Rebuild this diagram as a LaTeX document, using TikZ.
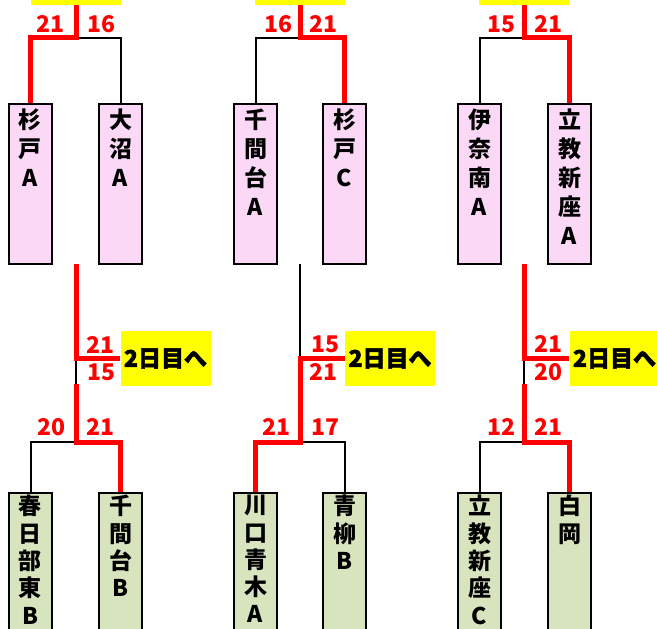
\documentclass[tikz,border=0pt]{standalone}
\usepackage{fontspec}
\setmainfont{Noto Sans CJK JP}
\newfontfamily\heavyfont[FakeBold=2]{Noto Sans CJK JP}
\definecolor{pinkfill}{RGB}{251,216,246}
\definecolor{greenfill}{RGB}{215,228,189}
\definecolor{winred}{RGB}{255,0,0}
\definecolor{goalyellow}{RGB}{255,255,0}

\begin{document}
\begin{tikzpicture}[x=1pt,y=-1pt,
  pinkbox/.style={draw,line width=2pt,fill=pinkfill,minimum width=43pt,minimum height=160pt,inner sep=0pt},
  greenbox/.style={pinkbox,fill=greenfill},
  teamname/.style={anchor=north,align=center,inner sep=0pt,yshift=-6pt,font=\fontsize{23}{29}\selectfont\bfseries},
  lowname/.style={teamname,yshift=3pt,font=\fontsize{23}{27.3}\selectfont\bfseries},
  goalbox/.style={fill=goalyellow,minimum width=90pt,minimum height=55pt,inner sep=0pt,font=\heavyfont\bfseries\fontsize{23}{23}\selectfont},
  score/.style={text=winred,inner sep=0pt,font=\fontsize{23}{23}\selectfont\bfseries},
  lose/.style={draw,line width=2pt},
  win/.style={draw,winred,line width=5pt}]
\useasboundingbox (0,0) rectangle (657,629);
\clip (0,0) rectangle (657,629);

% day-1 boxes, top row
\node[pinkbox] (a1) at (30.5,184) {};
\node[pinkbox] (b1) at (120.5,184) {};
\node[pinkbox] (a2) at (255.5,184) {};
\node[pinkbox] (b2) at (344.5,184) {};
\node[pinkbox] (a3) at (479.5,184) {};
\node[pinkbox] (b3) at (569.5,184) {};
\node[teamname] (a1t) at (a1.north) {杉\\戸\\A};
\node[teamname] (b1t) at (b1.north) {大\\沼\\A};
\node[teamname] (a2t) at (a2.north) {千\\間\\台\\A};
\node[teamname] (b2t) at (b2.north) {杉\\戸\\C};
\node[teamname] (a3t) at (a3.north) {伊\\奈\\南\\A};
\node[teamname] (b3t) at (b3.north) {立\\教\\新\\座\\A};

% bottom row
\node[greenbox] (c1) at (30.5,573) {};
\node[greenbox] (d1) at (120.5,573) {};
\node[greenbox] (c2) at (255.5,573) {};
\node[greenbox] (d2) at (344.5,573) {};
\node[greenbox] (c3) at (479.5,573) {};
\node[greenbox] (d3) at (569.5,573) {};
\node[lowname] (c1t) at (c1.north) {春\\日\\部\\東\\B};
\node[lowname] (d1t) at (d1.north) {千\\間\\台\\B};
\node[lowname] (c2t) at (c2.north) {川\\口\\青\\木\\A};
\node[lowname] (d2t) at (d2.north) {青\\柳\\B};
\node[lowname] (c3t) at (c3.north) {立\\教\\新\\座\\C};
\node[lowname] (d3t) at (d3.north) {白\\岡};

% yellow boxes
\node[goalbox] (f1) at (76,-22.5) {};
\node[goalbox] (f2) at (300,-22.5) {};
\node[goalbox] (f3) at (524,-22.5) {};
\node[goalbox] (g1) at (165.5,358.5) {2日目へ};
\node[goalbox] (g2) at (390,358.5) {2日目へ};
\node[goalbox] (g3) at (614.5,358.5) {2日目へ};

% junctions
\coordinate (t1) at (76,37.5);
\coordinate (t2) at (300,37.5);
\coordinate (t3) at (524,37.5);
\coordinate (u1) at (76,264);
\coordinate (u2) at (300,264);
\coordinate (u3) at (524,264);
\coordinate (m1) at (76,358.5);
\coordinate (m2) at (300,358.5);
\coordinate (m3) at (524,358.5);
\coordinate (l1) at (76,384);
\coordinate (l3) at (524,384);
\coordinate (j1) at (76,442);
\coordinate (j2) at (300,442);
\coordinate (j3) at (524,442);

\path[lose] (t1) -| (b1.north);
\path[lose] (t2) -| (a2.north);
\path[lose] (t3) -| (a3.north);
\path[lose] (m1) -- (l1);
\path[lose] (u2) -- (m2);
\path[lose] (m3) -- (l3);
\path[lose] (j1) -| (c1.north);
\path[lose] (j2) -| (d2.north);
\path[lose] (j3) -| (c3.north);

\path[win] (f1.south) -- (t1) -| (a1.north);
\path[win] (f2.south) -- (t2) -| (b2.north);
\path[win] (f3.south) -- (t3) -| (b3.north);
\path[win] (u1) -- (m1) -- (g1.west);
\path[win] (g2.west) -- (m2) -- (j2) -| (c2.north);
\path[win] (u3) -- (m3) -- (g3.west);
\path[win] (l1) -- (j1) -| (d1.north);
\path[win] (l3) -- (j3) -| (d3.north);

% scores
\node[score,anchor=base east] (s1) at (65,32) {21};
\node[score,anchor=base west] (s2) at (87,32) {16};
\node[score,anchor=base east] (s3) at (293,32) {16};
\node[score,anchor=base west] (s4) at (309,32) {21};
\node[score,anchor=base east] (s5) at (516,32) {15};
\node[score,anchor=base west] (s6) at (534,32) {21};
\node[score,anchor=base west] (s7) at (86,353) {21};
\node[score,anchor=base west] (s8) at (87,380) {15};
\node[score,anchor=base west] (s9) at (311,352) {15};
\node[score,anchor=base west] (s10) at (309,380) {21};
\node[score,anchor=base west] (s11) at (534,352) {21};
\node[score,anchor=base west] (s12) at (534,380) {20};
\node[score,anchor=base east] (s13) at (66,435) {20};
\node[score,anchor=base west] (s14) at (86,435) {21};
\node[score,anchor=base east] (s15) at (291,435) {21};
\node[score,anchor=base west] (s16) at (311,435) {17};
\node[score,anchor=base east] (s17) at (516,435) {12};
\node[score,anchor=base west] (s18) at (534,435) {21};
\end{tikzpicture}
\end{document}
